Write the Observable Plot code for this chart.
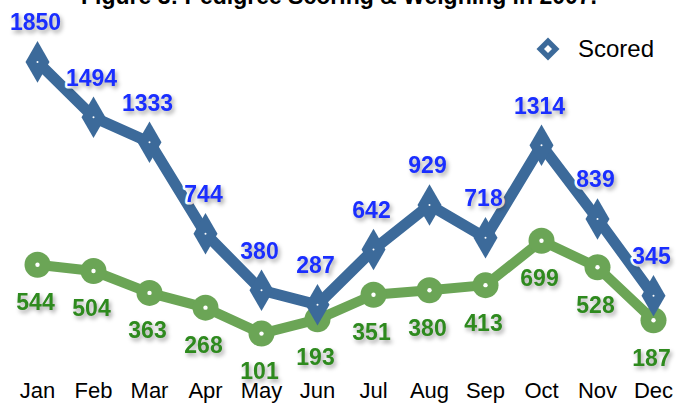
<!DOCTYPE html>
<html>
<head>
<meta charset="utf-8">
<script src="https://cdn.jsdelivr.net/npm/d3@7"></script>
<script src="https://cdn.jsdelivr.net/npm/@observablehq/plot@0.6"></script>
<style>
  html, body { margin: 0; padding: 0; background: #fff; overflow: hidden; }
  #wrap { position: relative; width: 678px; height: 403px; }
  #title { position: absolute; left: 0; width: 678px; top: -17px; text-align: center;
           font: bold 23px "Liberation Sans", Arial, sans-serif; color: #000; }
  #legend { position: absolute; left: 536px; top: 35px; display: flex; align-items: center;
            font: 24px "Liberation Sans", Arial, sans-serif; color: #000; }
  .shadow text { filter: drop-shadow(2px 3px 2px rgba(0,0,0,0.35)); }
</style>
</head>
<body>
<div id="wrap">
  <div id="title"></div>
  <div id="legend"></div>
</div>
<script>
const title = "Figure 3: Pedigree Scoring & Weighing in 2007.";
const months = ["Jan","Feb","Mar","Apr","May","Jun","Jul","Aug","Sep","Oct","Nov","Dec"];
const scored = [1850,1494,1333,744,380,287,642,929,718,1314,839,345];
const weighed = [544,504,363,268,101,193,351,380,413,699,528,187];
const seriesNames = ["Scored"];

const blue = "#3c6a9a", green = "#6ba556";
const blueText = "#1a2eff", greenText = "#2e8a1e";

const sData = months.map((m, i) => ({month: m, value: scored[i]}));
const wData = months.map((m, i) => ({month: m, value: weighed[i]}));

const font = "'Liberation Sans', Arial, Helvetica, sans-serif";

const chart = Plot.plot({
  width: 678,
  height: 403,
  marginTop: 61.4,
  marginBottom: 54.2,
  marginLeft: 33.5,
  marginRight: 21,
  style: {fontFamily: font, fontSize: "22px", background: "transparent", overflow: "visible"},
  x: {type: "point", domain: months, label: null, padding: 0},
  y: {domain: [0, 1850], axis: null},
  marks: [
    Plot.axisX({tickSize: 0, tickPadding: 33, fontSize: 22, fill: "#000", label: null}),
    Plot.line(wData, {x: "month", y: "value", stroke: green, strokeWidth: 10}),
    Plot.dot(wData, {x: "month", y: "value", r: 13, fill: green, stroke: "none"}),
    Plot.dot(wData, {x: "month", y: "value", r: 2.2, fill: "#fff", stroke: "none"}),
    Plot.line(sData, {x: "month", y: "value", stroke: blue, strokeWidth: 11}),
    Plot.dot(sData, {x: "month", y: "value", symbol: "diamond", r: 12.6, fill: blue, stroke: "none"}),
    Plot.dot(sData, {x: "month", y: "value", r: 1, fill: "#fff", stroke: "none"}),
    // white halos behind labels
    Plot.text(sData, {x: "month", y: "value", text: d => String(d.value), dy: -39, dx: -2,
      fontSize: 23, fontWeight: "bold", fill: "#fff", stroke: "#fff", strokeWidth: 5}),
    Plot.text(wData, {x: "month", y: "value", text: d => String(d.value), dy: 38, dx: -2,
      fontSize: 23, fontWeight: "bold", fill: "#fff", stroke: "#fff", strokeWidth: 3}),
    Plot.text(sData, {x: "month", y: "value", text: d => String(d.value), dy: -39, dx: -2,
      fontSize: 23, fontWeight: "bold", fill: blueText, className: "shadow"}),
    Plot.text(wData, {x: "month", y: "value", text: d => String(d.value), dy: 38, dx: -2,
      fontSize: 23, fontWeight: "bold", fill: greenText, className: "shadow"})
  ]
});
document.getElementById("wrap").prepend(chart);
chart.style.position = "absolute";
chart.style.left = "0px";
chart.style.top = "0px";

document.getElementById("title").textContent = title;
document.getElementById("legend").innerHTML =
  `<svg width="24" height="24" viewBox="-12 -12 24 24" style="margin-right:18px">
     <path d="M0,-11.5L11.5,0L0,11.5L-11.5,0Z" fill="${blue}"/>
     <path d="M0,-4L4,0L0,4L-4,0Z" fill="#fff"/>
   </svg><span>${seriesNames[0]}</span>`;
document.getElementById("title").style.zIndex = 2;
document.getElementById("legend").style.zIndex = 2;
</script>
</body>
</html>
